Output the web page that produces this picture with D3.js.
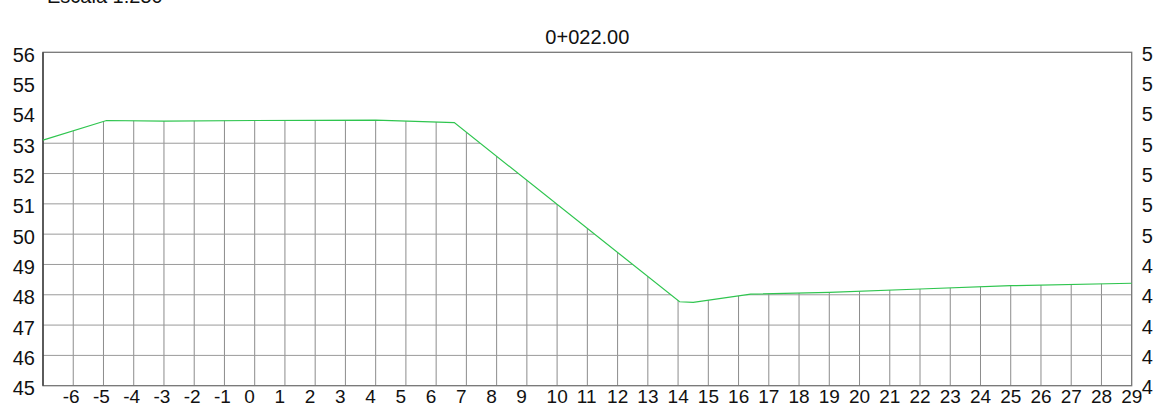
<!DOCTYPE html>
<html>
<head>
<meta charset="utf-8">
<script src="https://cdn.jsdelivr.net/npm/d3@7"></script>
<style>
  body { margin: 0; background: #fff; }
  svg { display: block; font-family: "Liberation Sans", Arial, sans-serif; }
</style>
</head>
<body>
<script>
// section data
var stations = [-7, -4.9, -3, 0, 4, 6.6, 14.05, 14.5, 16.4, 19, 22, 25, 29]
var elevations = [53.1, 53.75, 53.73, 53.75, 53.76, 53.68, 47.77, 47.75, 48.02, 48.08, 48.19, 48.30, 48.38]
var xTicks = d3.range(-6, 30) // -6 .. 29
var yTicks = d3.range(45, 57) // 45 .. 56
var title = '0+022.00'
var scaleText = 'Escala 1:250'

var w = 1153, h = 406

var svg = d3.select('body').append('svg')
    .attr('width', w)
    .attr('height', h)

var x = d3.scaleLinear().domain([-7, 29]).range([43, 1131.7])
var y = d3.scaleLinear().domain([45, 56]).range([385.7, 52.3])

var profile = stations.map(function(s, i) { return { s: s, z: elevations[i] } })

// clip: grid only shows under the ground line
svg.append('clipPath').attr('id', 'ground')
    .append('path')
    .attr('d', d3.area()
        .x(function(d) { return x(d.s) })
        .y0(y(45))
        .y1(function(d) { return y(d.z) })(profile))

var grid = svg.append('g').attr('clip-path', 'url(#ground)')

grid.selectAll('.vline')
    .data(xTicks)
    .enter().append('line')
    .attr('x1', function(d) { return x(d) })
    .attr('x2', function(d) { return x(d) })
    .attr('y1', y(45))
    .attr('y2', y(56))
    .attr('stroke', '#8c8c8c')
    .attr('stroke-width', 1)

grid.selectAll('.hline')
    .data(yTicks)
    .enter().append('line')
    .attr('x1', x(-7))
    .attr('x2', x(29))
    .attr('y1', function(d) { return y(d) })
    .attr('y2', function(d) { return y(d) })
    .attr('stroke', '#9a9a9a')
    .attr('stroke-width', 1)

// frame
svg.append('rect')
    .attr('x', x(-7))
    .attr('y', y(56))
    .attr('width', x(29) - x(-7))
    .attr('height', y(45) - y(56))
    .attr('fill', 'none')
    .attr('stroke', '#777')
    .attr('stroke-width', 1.3)

svg.append('line')
    .attr('x1', x(-7)).attr('x2', x(-7))
    .attr('y1', y(56)).attr('y2', y(45))
    .attr('stroke', '#333')
    .attr('stroke-width', 1.3)

// ground line
svg.append('path')
    .datum(profile)
    .attr('fill', 'none')
    .attr('stroke', '#2fc54f')
    .attr('stroke-width', 1.2)
    .attr('d', d3.line()
        .x(function(d) { return x(d.s) })
        .y(function(d) { return y(d.z) }))

// axes (plain hyphen minus, like the reference)
var fmt = function(d) { return String(d) }

var xAxis = svg.append('g')
    .attr('transform', 'translate(0,' + y(45) + ')')
    .call(d3.axisBottom(x).tickValues(xTicks).tickSize(0).tickFormat(fmt))
xAxis.select('.domain').remove()
xAxis.selectAll('text')
    .attr('text-anchor', 'start')
    .attr('x', -11)
    .attr('y', 17)
    .attr('dy', 0)
    .attr('fill', '#111')
    .style('font-size', '19px')

var yLeft = svg.append('g')
    .attr('transform', 'translate(' + x(-7) + ',0)')
    .call(d3.axisLeft(y).tickValues(yTicks).tickSize(0).tickPadding(8).tickFormat(fmt))
yLeft.select('.domain').remove()
yLeft.selectAll('text')
    .attr('dy', '0.45em')
    .attr('fill', '#111')
    .style('font-size', '20px')

var yRight = svg.append('g')
    .attr('transform', 'translate(' + x(29) + ',0)')
    .call(d3.axisRight(y).tickValues(yTicks).tickSize(0).tickPadding(10).tickFormat(fmt))
yRight.select('.domain').remove()
yRight.selectAll('text')
    .attr('dy', '0.4em')
    .attr('fill', '#111')
    .style('font-size', '20px')

// title and scale note
svg.append('text')
    .attr('x', (x(-7) + x(29)) / 2)
    .attr('y', 44)
    .attr('text-anchor', 'middle')
    .attr('fill', '#111')
    .style('font-size', '20px')
    .text(title)

svg.append('text')
    .attr('x', 47)
    .attr('y', 3)
    .attr('fill', '#111')
    .style('font-size', '20px')
    .text(scaleText)
</script>
</body>
</html>
